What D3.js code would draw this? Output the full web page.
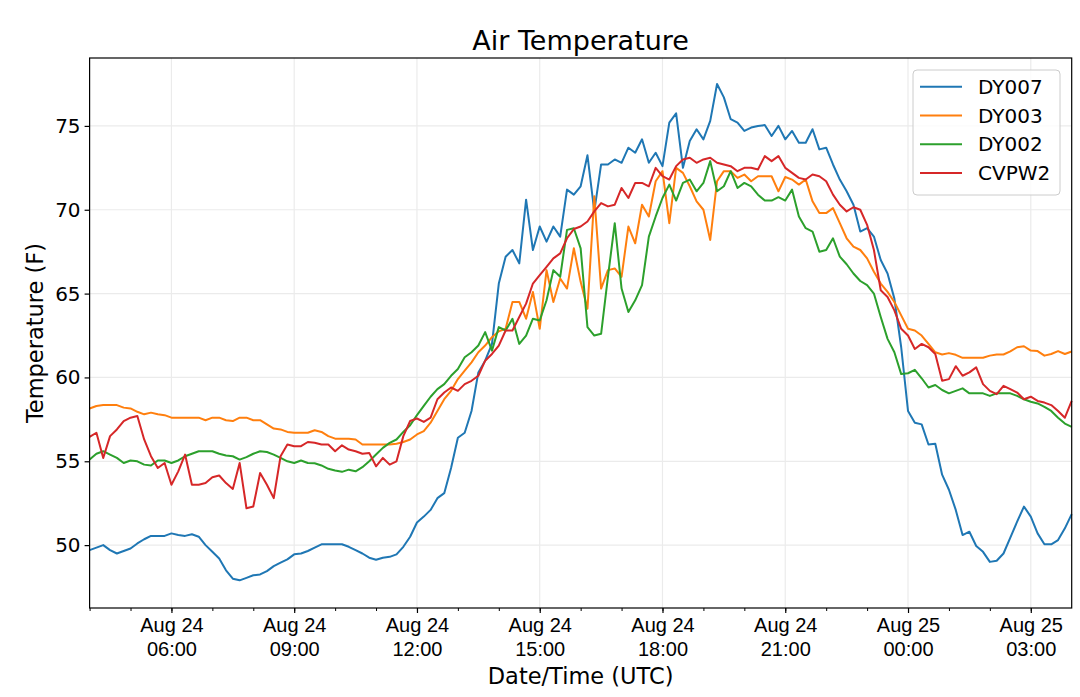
<!DOCTYPE html>
<html>
<head>
<meta charset="utf-8">
<script src="https://cdn.jsdelivr.net/npm/d3@7"></script>
<style>
  body { margin: 0; background: #fff; }
  svg { display: block; font-family: "DejaVu Sans", sans-serif; }
</style>
</head>
<body>
<svg id="chart" width="1080" height="697"></svg>
<script>
// ######## readings, one every 10 minutes from 04:00 UTC Aug 24 to 04:00 UTC Aug 25
const startTime = "2019-08-24T04:00:00Z";
const stepMinutes = 10;

const stations = ["DY007", "DY003", "DY002", "CVPW2"];
const colors = ["#1f77b4", "#ff7f0e", "#2ca02c", "#d62728"];

const dy007 = [
  49.7, 49.85, 50.0, 49.7, 49.5, 49.65, 49.8, 50.1, 50.35, 50.55, 50.55, 50.55, 50.7, 50.6, 50.55, 50.65, 50.5, 50.0, 49.6, 49.2, 48.5, 48.0, 47.9, 48.05, 48.2,
  48.25, 48.45, 48.75, 48.95, 49.15, 49.45, 49.5, 49.65, 49.85, 50.05, 50.05, 50.05, 50.05, 49.9, 49.7, 49.5, 49.25, 49.13, 49.25, 49.3, 49.45, 49.9, 50.5, 51.35,
  51.7, 52.1, 52.8, 53.1, 54.6, 56.4, 56.7, 58.0, 60.3, 61.0, 62.0, 65.6, 67.2, 67.6, 66.8, 70.6, 67.6, 69.0, 68.1, 69.0, 68.4, 71.2, 70.9, 71.4,
  73.25, 69.9, 72.7, 72.7, 73.0, 72.8, 73.7, 73.4, 74.2, 72.8, 73.4, 72.6, 75.2, 75.75, 72.5, 74.1, 74.8, 74.2, 75.3, 77.5, 76.7, 75.4, 75.2, 74.7, 74.9, 75.0, 75.05, 74.4, 75.0, 74.2, 74.7, 74.0, 74.0, 74.8, 73.6, 73.7,
  72.7, 71.8, 71.1, 70.3, 68.7, 68.9, 68.4, 67.0, 66.2, 64.7, 61.8, 58.0, 57.3, 57.2, 56.0, 56.05, 54.2, 53.3, 52.1, 50.6, 50.8, 49.95, 49.6, 49.0, 49.07, 49.5, 50.45, 51.4, 52.3, 51.7, 50.7, 50.05, 50.05, 50.3, 51.0, 51.85
];

const dy003 = [
  58.15, 58.3, 58.35, 58.35, 58.35, 58.2, 58.15, 57.95, 57.8, 57.9, 57.8, 57.75, 57.6, 57.6, 57.6, 57.6, 57.6, 57.45, 57.6, 57.6, 57.45, 57.4, 57.6, 57.6, 57.45,
  57.45, 57.2, 56.95, 56.9, 56.75, 56.7, 56.7, 56.7, 56.85, 56.75, 56.5, 56.35, 56.35, 56.35, 56.3, 56.0, 56.0, 56.0, 56.0, 56.0, 56.05, 56.15, 56.3, 56.6,
  56.8, 57.3, 58.0, 58.7, 59.2, 59.9, 60.4, 60.9, 61.5, 61.9, 62.4, 62.75, 62.9, 64.5, 64.5, 63.5, 65.1, 62.9, 66.4, 64.5, 65.9, 65.3, 67.7, 65.7,
  64.1, 70.8, 65.3, 66.4, 66.5, 66.0, 69.0, 68.0, 70.3, 69.6, 71.7, 72.3, 69.2, 72.5, 72.2, 71.4, 70.5, 70.0, 68.2, 71.7, 72.3, 72.3, 71.9, 72.1, 71.7, 72.0, 72.0, 72.0, 71.1, 71.95, 71.8, 71.5, 71.8, 70.5, 69.8, 69.8,
  70.1, 69.2, 68.3, 67.8, 67.6, 67.1, 66.3, 65.6, 65.1, 64.5, 63.7, 62.9, 62.8, 62.5, 62.0, 61.5, 61.37, 61.45, 61.35, 61.17, 61.17, 61.17, 61.17, 61.3, 61.37, 61.37, 61.55, 61.8, 61.86, 61.6, 61.57, 61.3, 61.4, 61.57, 61.4, 61.55
];

const dy002 = [
  55.1, 55.45, 55.6, 55.4, 55.2, 54.9, 55.05, 55.0, 54.8, 54.75, 55.05, 55.05, 54.9, 55.05, 55.3, 55.45, 55.6, 55.6, 55.6, 55.45, 55.35, 55.3, 55.1, 55.25, 55.45,
  55.6, 55.55, 55.4, 55.2, 55.0, 54.9, 55.05, 54.9, 54.88, 54.75, 54.55, 54.45, 54.37, 54.5, 54.4, 54.65, 55.0, 55.4, 55.8, 56.1, 56.3, 56.75, 57.15, 57.75,
  58.3, 58.85, 59.3, 59.6, 60.1, 60.5, 61.2, 61.5, 61.9, 62.7, 61.6, 63.0, 62.8, 63.5, 62.0, 62.5, 63.5, 63.4, 64.6, 66.4, 66.0, 68.8, 68.9, 67.7,
  63.0, 62.5, 62.6, 66.0, 69.2, 65.3, 63.9, 64.6, 65.5, 68.4, 69.6, 70.7, 71.5, 70.55, 71.6, 71.8, 71.1, 71.6, 72.9, 71.1, 71.4, 72.3, 71.3, 71.6, 71.4, 70.9, 70.55, 70.55, 70.75, 70.55, 71.2, 69.6, 68.9, 68.7, 67.5, 67.6,
  68.3, 67.2, 66.75, 66.2, 65.75, 65.5, 65.0, 63.6, 62.3, 61.5, 60.2, 60.25, 60.45, 59.95, 59.4, 59.55, 59.25, 59.05, 59.2, 59.35, 59.05, 59.05, 59.05, 58.9, 59.05, 59.05, 59.05, 58.9, 58.7, 58.55, 58.45, 58.25, 58.0, 57.6, 57.25, 57.05
];

const cvpw2 = [
  56.45, 56.7, 55.2, 56.5, 56.9, 57.4, 57.6, 57.7, 56.3, 55.3, 54.6, 54.9, 53.6, 54.4, 55.4, 53.6, 53.6, 53.7, 54.05, 54.15, 53.7, 53.35, 54.9, 52.2, 52.3,
  54.3, 53.6, 52.8, 55.3, 56.0, 55.9, 55.9, 56.15, 56.1, 56.0, 56.0, 55.6, 55.95, 55.7, 55.6, 55.45, 55.5, 54.7, 55.2, 54.8, 55.0, 56.5, 57.4, 57.55,
  57.35, 57.6, 58.7, 59.1, 59.4, 59.2, 59.6, 59.8, 60.1, 61.0, 61.4, 61.9, 62.8, 62.8, 63.6, 64.4, 65.6, 66.1, 66.6, 67.1, 67.4, 68.3, 68.85, 69.0,
  69.3, 69.9, 70.4, 70.2, 70.3, 71.3, 70.7, 71.6, 71.6, 71.4, 72.5, 72.0, 71.8, 72.6, 73.0, 73.1, 72.8, 73.0, 73.1, 72.8, 72.7, 72.6, 72.3, 72.5, 72.5, 72.4, 73.2, 72.9, 73.2, 72.5, 72.2, 71.9, 71.8, 72.1, 72.0, 71.7,
  70.9, 70.3, 69.9, 70.15, 70.0, 69.1, 67.6, 65.2, 64.8, 64.0, 62.9, 62.5, 61.7, 62.0, 61.8, 61.4, 59.8, 59.9, 60.67, 60.1, 60.3, 60.6, 59.6, 59.2, 59.0, 59.5, 59.3, 59.1, 58.7, 58.85, 58.6, 58.5, 58.35, 58.0, 57.6, 58.6
];

const seriesValues = [dy007, dy003, dy002, cvpw2];
const yTicks = [50, 55, 60, 65, 70, 75];

// ######## layout
const margin = { left: 89.6, right: 1071.7, top: 58, bottom: 608 };
const svg = d3.select("#chart");

const t0 = new Date(startTime);
const times = dy007.map((_, i) => new Date(t0.getTime() + i * stepMinutes * 60000));

const x = d3.scaleUtc()
  .domain([t0, times[times.length - 1]])
  .range([margin.left, margin.right]);

const y = d3.scaleLinear()
  .domain([46.25, 79.05])
  .range([margin.bottom, margin.top]);

// grid lines first so they sit under the data
const majorX = d3.utcHour.every(3).range(d3.utcHour.offset(t0, 2), d3.utcHour.offset(t0, 24));
const minorX = d3.utcHour.every(1).range(t0, d3.utcHour.offset(t0, 24, 1));

const grid = svg.append("g");
grid.selectAll("line.gx").data(majorX).join("line")
  .attr("x1", d => x(d)).attr("x2", d => x(d))
  .attr("y1", margin.top).attr("y2", margin.bottom)
  .attr("stroke", "#ebebeb").attr("stroke-width", 1.2);
grid.selectAll("line.gy").data(yTicks).join("line")
  .attr("x1", margin.left).attr("x2", margin.right)
  .attr("y1", d => y(d)).attr("y2", d => y(d))
  .attr("stroke", "#ebebeb").attr("stroke-width", 1.2);

// ######## lines
const line = d3.line()
  .x((d, i) => x(times[i]))
  .y(d => y(d));

const plot = svg.append("g");
seriesValues.forEach((vals, k) => {
  plot.append("path")
    .datum(vals)
    .attr("d", line)
    .attr("fill", "none")
    .attr("stroke", colors[k])
    .attr("stroke-width", 2)
    .attr("stroke-linejoin", "round");
});

// frame
svg.append("rect")
  .attr("x", margin.left).attr("y", margin.top)
  .attr("width", margin.right - margin.left)
  .attr("height", margin.bottom - margin.top)
  .attr("fill", "none").attr("stroke", "#000").attr("stroke-width", 1.2);

// ######## x axis: minor ticks every hour, labelled ticks every 3 hours
const xAxisMinor = d3.axisBottom(x).tickValues(minorX).tickSize(3).tickFormat("");
svg.append("g").attr("transform", `translate(0,${margin.bottom})`).call(xAxisMinor)
  .call(g => g.select(".domain").remove())
  .call(g => g.selectAll("line").attr("stroke", "#000").attr("stroke-width", 1));

const xAxisMajor = d3.axisBottom(x).tickValues(majorX).tickSize(5).tickFormat("");
const xg = svg.append("g").attr("transform", `translate(0,${margin.bottom})`).call(xAxisMajor);
xg.select(".domain").remove();
xg.selectAll("line").attr("stroke", "#000").attr("stroke-width", 1.2);

const fmtDay = d3.utcFormat("%b %d");
const fmtHour = d3.utcFormat("%H:%M");
xg.selectAll(".tick").append("text")
  .attr("fill", "#000").attr("text-anchor", "middle")
  .attr("font-size", "20px")
  .each(function(d) {
    const t = d3.select(this);
    t.append("tspan").attr("x", 0).attr("y", 24).text(fmtDay(d));
    t.append("tspan").attr("x", 0).attr("y", 48).text(fmtHour(d));
  });

// ######## y axis
const yAxis = d3.axisLeft(y).tickValues(yTicks).tickSize(5).tickPadding(4);
const yg = svg.append("g").attr("transform", `translate(${margin.left},0)`).call(yAxis);
yg.select(".domain").remove();
yg.selectAll("line").attr("stroke", "#000").attr("stroke-width", 1.2);
yg.selectAll("text").attr("fill", "#000").attr("font-size", "20px")
  .attr("font-family", "DejaVu Sans, sans-serif");

// ######## titles
svg.append("text")
  .attr("x", (margin.left + margin.right) / 2).attr("y", 50)
  .attr("text-anchor", "middle").attr("font-size", "27px")
  .text("Air Temperature");

svg.append("text")
  .attr("x", (margin.left + margin.right) / 2).attr("y", 684)
  .attr("text-anchor", "middle").attr("font-size", "22.5px")
  .text("Date/Time (UTC)");

svg.append("text")
  .attr("transform", `translate(43,${(margin.top + margin.bottom) / 2}) rotate(-90)`)
  .attr("text-anchor", "middle").attr("font-size", "22.5px")
  .text("Temperature (F)");

// ######## legend
const legend = svg.append("g").attr("transform", "translate(913,70)");
legend.append("rect")
  .attr("width", 147).attr("height", 125).attr("rx", 4)
  .attr("fill", "#fff").attr("fill-opacity", 0.8)
  .attr("stroke", "#cccccc").attr("stroke-width", 1);

stations.forEach((name, k) => {
  const row = legend.append("g").attr("transform", `translate(0,${16.7 + k * 28.8})`);
  row.append("line")
    .attr("x1", 7).attr("x2", 49)
    .attr("stroke", colors[k]).attr("stroke-width", 2);
  row.append("text")
    .attr("x", 65).attr("dy", "0.35em")
    .attr("font-size", "20px")
    .text(name);
});
</script>
</body>
</html>
